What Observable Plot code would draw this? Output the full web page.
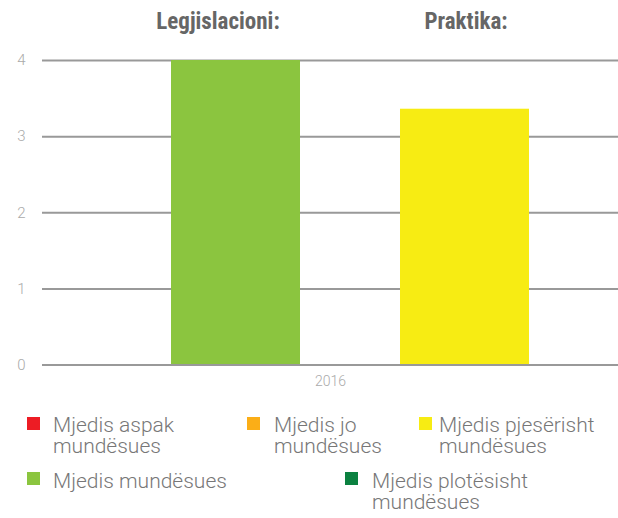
<!DOCTYPE html>
<html><head><meta charset="utf-8">
<script src="https://cdn.jsdelivr.net/npm/d3@7"></script>
<script src="https://cdn.jsdelivr.net/npm/@observablehq/plot@0.6"></script>
<style>
body{margin:0;background:#fff;}
#chart{position:relative;width:618px;height:518px;overflow:hidden;}
#chart svg{position:absolute;left:0;top:0;}
.item{position:absolute;}
.sw{position:absolute;left:0;width:13px;height:13px;}
.lb{position:absolute;font-family:Roboto,sans-serif;font-weight:300;font-size:21px;line-height:21px;color:#777;white-space:normal;}
</style></head>
<body><div id="chart"></div>
<script>
const year = "2016";
const series = ["Legjislacioni:", "Praktika:"];
const values = [4, 3.36];
const barColors = ["#8BC53F", "#F7EC13"];
const yTicks = [0, 1, 2, 3, 4];
const legendLabels = ["Mjedis aspak mundësues", "Mjedis jo mundësues", "Mjedis pjesërisht mundësues", "Mjedis mundësues", "Mjedis plotësisht mundësues"];
const legendColors = ["#ED1C24", "#FBAE17", "#F7EC13", "#8BC53F", "#0B8140"];

const data = series.map((s, i) => ({series: s, value: values[i], year}));

// layout (not data)
const legendPos = [
  {left: 27, top: 415, sq: 2, tx: 26, w: 140},
  {left: 247, top: 415, sq: 2, tx: 27, w: 115},
  {left: 419, top: 415, sq: 2, tx: 20, w: 185},
  {left: 27, top: 471, sq: 1, tx: 26, w: 220},
  {left: 345, top: 471, sq: 1, tx: 27, w: 185}
];

const titleFont = "'Liberation Sans Narrow', 'Roboto Condensed', Roboto, sans-serif";

const plot = Plot.plot({
  width: 618, height: 395,
  marginLeft: 42, marginRight: 0, marginTop: 60, marginBottom: 30.5,
  style: {fontFamily: "Roboto, sans-serif", background: "transparent"},
  x: {domain: series, range: [71, 629], padding: 100 / 229, axis: null},
  y: {domain: [0, 4], axis: null},
  color: {domain: series, range: barColors},
  marks: [
    Plot.ruleY(yTicks.filter(d => d > 0), {stroke: "#999", strokeWidth: 2}),
    Plot.barY(data, {x: "series", y: "value", fill: "series"}),
    Plot.ruleY([0], {stroke: "#999", strokeWidth: 2}),
    Plot.axisY({ticks: yTicks, tickFormat: d => String(d), label: null, tickSize: 0, tickPadding: 17, fontSize: 15, fontWeight: 300, fill: "#aaa"}),
    Plot.text(data.slice(0, 1), {x: "series", text: "series", frameAnchor: "top", lineAnchor: "middle", dy: -39, dx: -18, fontSize: 23, fontWeight: "bold", fill: "#666", fontFamily: titleFont}),
    Plot.text(data.slice(1, 2), {x: "series", text: "series", frameAnchor: "top", lineAnchor: "middle", dy: -39, dx: 1, fontSize: 23, fontWeight: "bold", fill: "#666", fontFamily: titleFont}),
    Plot.text([year], {text: d => d, frameAnchor: "bottom", lineAnchor: "middle", dy: 16.5, fontSize: 14, fontWeight: 300, fill: "#aaa"})
  ]
});

const chart = document.getElementById("chart");
chart.appendChild(plot);

legendLabels.forEach((label, i) => {
  const p = legendPos[i];
  const item = document.createElement("div");
  item.className = "item";
  item.style.left = p.left + "px";
  item.style.top = p.top + "px";
  const sw = document.createElement("div");
  sw.className = "sw";
  sw.style.background = legendColors[i];
  sw.style.top = p.sq + "px";
  const lb = document.createElement("div");
  lb.className = "lb";
  lb.style.left = p.tx + "px";
  lb.style.width = p.w + "px";
  lb.textContent = label;
  item.appendChild(sw);
  item.appendChild(lb);
  chart.appendChild(item);
});
</script>
</body></html>
